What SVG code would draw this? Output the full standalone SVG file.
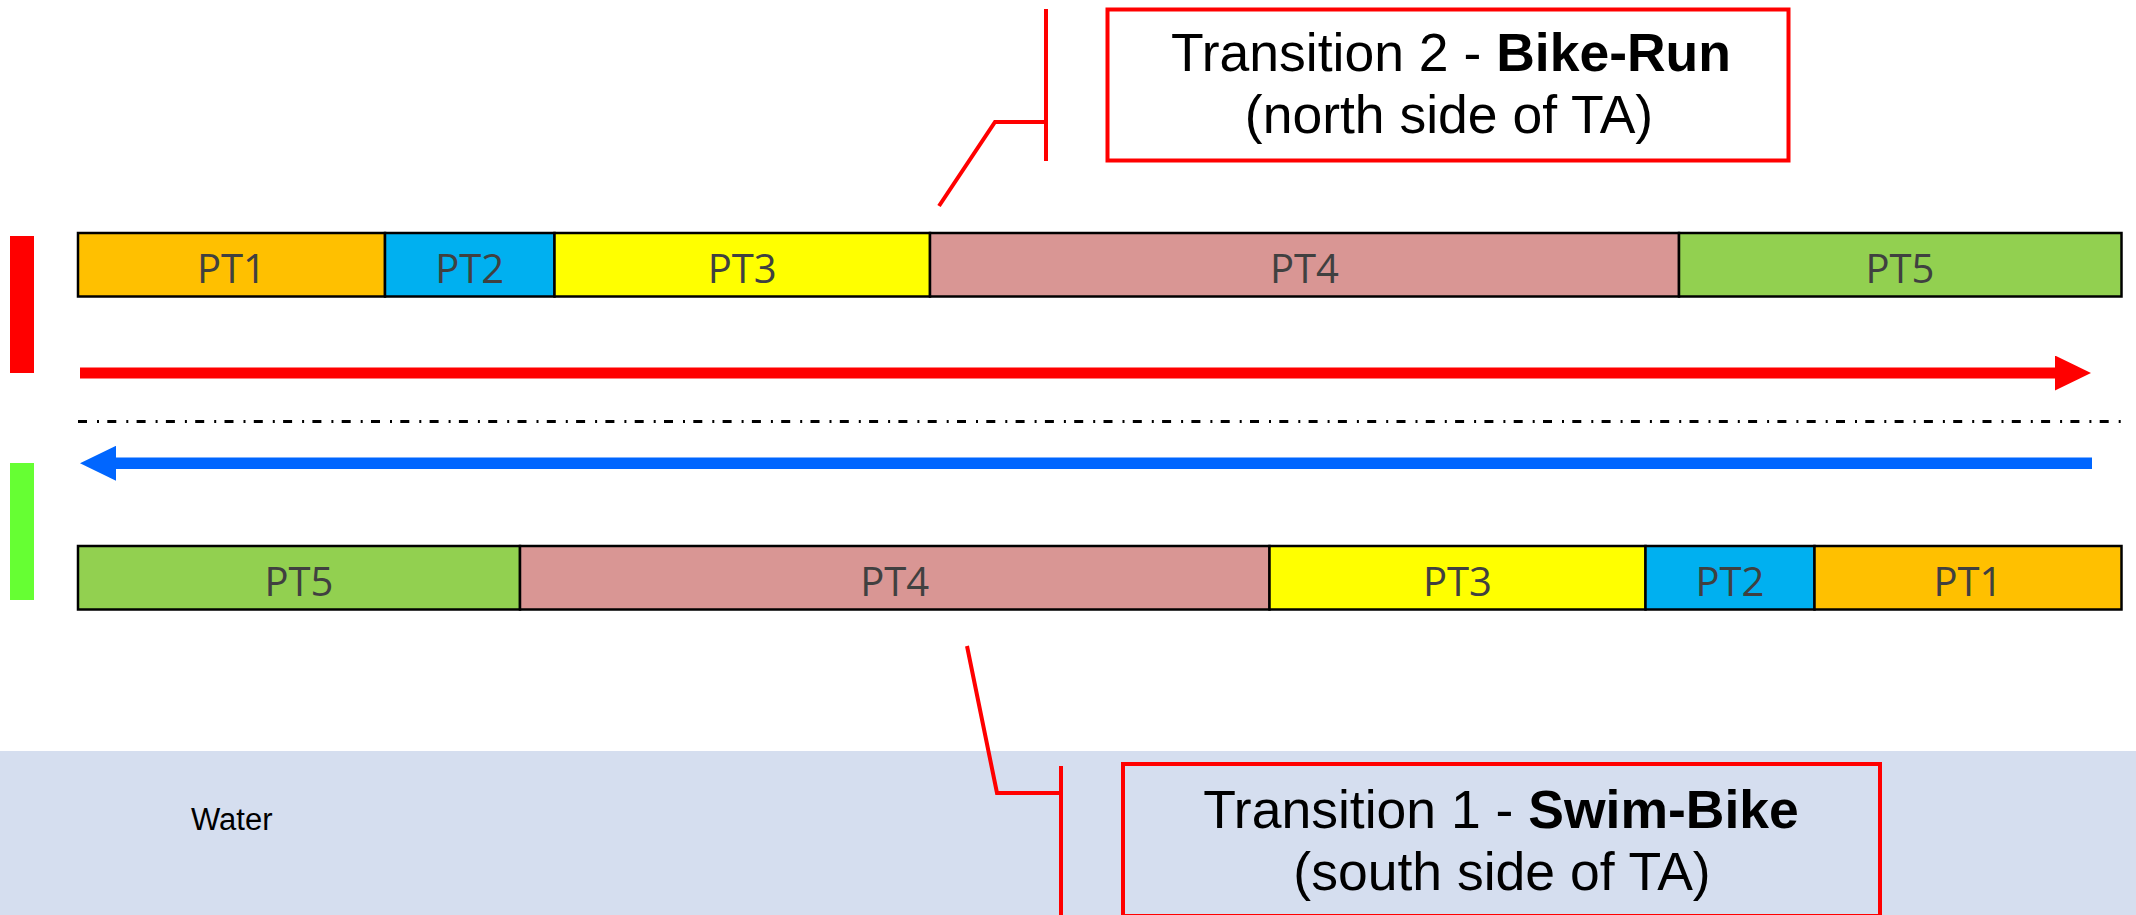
<svg xmlns="http://www.w3.org/2000/svg" width="2136" height="915" viewBox="0 0 2136 915">
  <defs>
    <style>
      .seg { stroke: #000000; stroke-width: 2.5; }
      .pt { font-family: "Open Sans", "Liberation Sans", sans-serif; font-size: 40px; fill: #404040; text-anchor: middle; }
      .call { font-family: "Liberation Sans", Arial, sans-serif; font-size: 53.5px; fill: #000000; text-anchor: middle; }
      .bold { font-weight: bold; }
      .leader { fill: none; stroke: #FF0000; stroke-width: 4; stroke-linejoin: miter; }
      .cbox { stroke: #FF0000; stroke-width: 4; }
      .c1 { fill: #FFC000; } .c2 { fill: #00B0F0; } .c3 { fill: #FFFF00; } .c4 { fill: #D99694; } .c5 { fill: #92D050; }
    </style>
    <marker id="headRed" markerUnits="userSpaceOnUse" markerWidth="36" markerHeight="35" refX="0" refY="17.5" orient="auto" viewBox="0 0 36 35">
      <path d="M0,0 L36,17.5 L0,35 z" fill="#FF0000"/>
    </marker>
    <marker id="headBlue" markerUnits="userSpaceOnUse" markerWidth="36" markerHeight="35" refX="0" refY="17.5" orient="auto" viewBox="0 0 36 35">
      <path d="M0,0 L36,17.5 L0,35 z" fill="#0066FF"/>
    </marker>
  </defs>

  <rect width="2136" height="915" fill="#FFFFFF"/>

  <g id="water">
    <rect x="0" y="751" width="2136" height="164" fill="#D5DEEF"/>
    <text x="191" y="830" font-family="Liberation Sans, Arial, sans-serif" font-size="31" fill="#000000">Water</text>
  </g>

  <g id="side-markers">
    <rect x="10" y="236" width="24" height="137" fill="#FF0000"/>
    <rect x="10" y="463" width="24" height="137" fill="#66FF33"/>
  </g>

  <g id="north-row">
    <g id="n-pt1"><rect class="seg c1" x="78" y="233" width="307" height="63.5"/><text class="pt" x="231.5" y="283">PT1</text></g>
    <g id="n-pt2"><rect class="seg c2" x="385" y="233" width="169.5" height="63.5"/><text class="pt" x="469.7" y="283">PT2</text></g>
    <g id="n-pt3"><rect class="seg c3" x="554.5" y="233" width="375.5" height="63.5"/><text class="pt" x="742.2" y="283">PT3</text></g>
    <g id="n-pt4"><rect class="seg c4" x="930" y="233" width="749" height="63.5"/><text class="pt" x="1304.5" y="283">PT4</text></g>
    <g id="n-pt5"><rect class="seg c5" x="1679" y="233" width="442.5" height="63.5"/><text class="pt" x="1900" y="283">PT5</text></g>
  </g>

  <g id="south-row">
    <g id="s-pt5"><rect class="seg c5" x="78" y="546" width="442" height="63.5"/><text class="pt" x="299" y="596">PT5</text></g>
    <g id="s-pt4"><rect class="seg c4" x="520" y="546" width="749.5" height="63.5"/><text class="pt" x="894.7" y="596">PT4</text></g>
    <g id="s-pt3"><rect class="seg c3" x="1269.5" y="546" width="376" height="63.5"/><text class="pt" x="1457.5" y="596">PT3</text></g>
    <g id="s-pt2"><rect class="seg c2" x="1645.5" y="546" width="169" height="63.5"/><text class="pt" x="1730" y="596">PT2</text></g>
    <g id="s-pt1"><rect class="seg c1" x="1814.5" y="546" width="307" height="63.5"/><text class="pt" x="1968" y="596">PT1</text></g>
  </g>

  <g id="transition2">
    <rect class="cbox" x="1107.5" y="9.5" width="681" height="151" fill="#FFFFFF"/>
    <text class="call" x="1451" y="71">Transition 2 - <tspan class="bold">Bike-Run</tspan></text>
    <text class="call" x="1449" y="133">(north side of TA)</text>
  </g>

  <g id="transition1">
    <rect class="cbox" x="1123" y="764" width="757" height="152" fill="none"/>
    <text class="call" x="1501" y="828">Transition 1 - <tspan class="bold">Swim-Bike</tspan></text>
    <text class="call" x="1502" y="890">(south side of TA)</text>
  </g>

  <g id="connectors">
    <line x1="80" y1="373" x2="2055" y2="373" stroke="#FF0000" stroke-width="11" marker-end="url(#headRed)"/>
    <line x1="78" y1="421.5" x2="2122" y2="421.5" stroke="#000000" stroke-width="3" stroke-dasharray="9 10 2 8.3"/>
    <line x1="2092" y1="463.3" x2="116" y2="463.3" stroke="#0066FF" stroke-width="11.5" marker-end="url(#headBlue)"/>
    <path class="leader" d="M1046,9 L1046,161 M1046,122 L995,122 L939,206"/>
    <path class="leader" d="M1061,766 L1061,915 M1061,793 L997,793 L967,646"/>
  </g>
</svg>
